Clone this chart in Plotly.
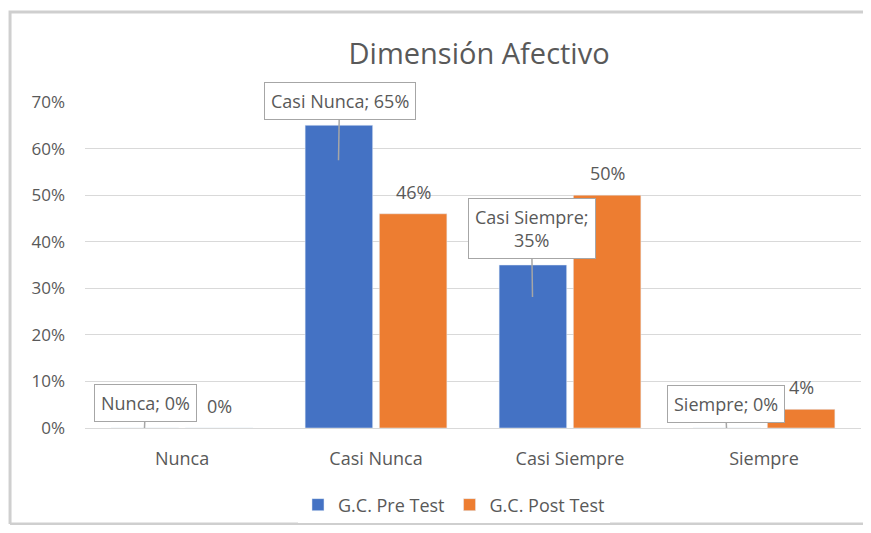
import plotly.graph_objects as go

# datos
categorias = ["Nunca", "Casi Nunca", "Casi Siempre", "Siempre"]
pre_test = [0.00, 0.65, 0.35, 0.00]
post_test = [0.00, 0.46, 0.50, 0.04]
serie_pre = "G.C. Pre Test"
serie_post = "G.C. Post Test"
tick_vals = [0, 0.1, 0.2, 0.3, 0.4, 0.5, 0.6, 0.7]

AZUL = "#4472C4"
NARANJA = "#ED7D31"
GRIS_TXT = "#595959"
FUENTE = "Open Sans"

fig = go.Figure()
fig.add_trace(go.Bar(x=categorias, y=pre_test, name=serie_pre, marker_color=AZUL))
fig.add_trace(go.Bar(x=categorias, y=post_test, name=serie_post, marker_color=NARANJA))

# etiquetas tipo "globo" para el pre test (categoría; valor)
globos = {
    0: dict(ax=1, ay=-25, yshift=0, br=False),
    1: dict(ax=1, ay=-59, yshift=-35, br=False),
    2: dict(ax=-1, ay=-69, yshift=-32, br=True),
    3: dict(ax=-1, ay=-24, yshift=0, br=False),
}
for i, (cat, val) in enumerate(zip(categorias, pre_test)):
    g = globos[i]
    sep = "<br>" if g["br"] else " "
    fig.add_annotation(
        x=cat, y=val, xshift=-37.5, yshift=g["yshift"],
        text=f"{cat};{sep}{val:.0%}",
        showarrow=True, arrowhead=0, arrowwidth=1.5, arrowcolor="#a6a6a6",
        ax=g["ax"], ay=g["ay"],
        bgcolor="white", bordercolor="#a6a6a6", borderwidth=1, borderpad=6,
        font=dict(family=FUENTE, size=18, color=GRIS_TXT),
    )

# valores del post test sobre las barras
for cat, val in zip(categorias, post_test):
    fig.add_annotation(
        x=cat, y=val, xshift=37.5, yshift=22, text=f"{val:.0%}",
        showarrow=False, font=dict(family=FUENTE, size=18, color=GRIS_TXT),
    )

# marco exterior del gráfico (izquierda, arriba y abajo; a la derecha queda fuera)
fig.add_shape(type="path", xref="paper", yref="paper",
              path="M -0.0966,-0.2945 L -0.0966,1.276 L 1.2,1.276 M -0.0966,-0.2945 L 1.2,-0.2945",
              line=dict(color="#cfcfcf", width=3), layer="below")

# la página tiene 8 px de margen en el body: la figura se achica para no crear barras de scroll
fig.update_layout(
    width=855, height=517,
    margin=dict(l=77, r=2, t=94, b=97),
    paper_bgcolor="white", plot_bgcolor="white",
    barmode="group", bargap=0.235, bargroupgap=0.09,
    font=dict(family=FUENTE, color=GRIS_TXT, size=18),
    title=dict(text="Dimensión Afectivo", x=0.551, xanchor="center",
               y=0.911, yanchor="middle",
               font=dict(family=FUENTE, size=29, color=GRIS_TXT)),
    legend=dict(orientation="h", x=0.4755, xanchor="center", y=-0.236, yanchor="middle",
                font=dict(family=FUENTE, size=18, color=GRIS_TXT),
                itemwidth=30, traceorder="normal"),
    showlegend=True,
)
fig.update_yaxes(range=[0, 0.7], tickvals=tick_vals, tickformat=".0%",
                 showgrid=True, gridcolor="#d9d9d9", gridwidth=1,
                 zeroline=False, showline=False, ticks="", ticklabelstandoff=19,
                 tickfont=dict(family=FUENTE, size=17, color=GRIS_TXT))
fig.update_xaxes(showline=True, linecolor="#d9d9d9", linewidth=1, ticks="",
                 ticklabelstandoff=14,
                 tickfont=dict(family=FUENTE, size=18, color=GRIS_TXT))

fig.write_html("out.html")
